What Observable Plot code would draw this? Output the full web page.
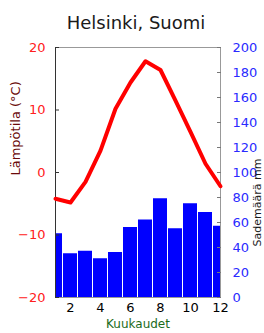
<!DOCTYPE html>
<html><head><meta charset="utf-8">
<script src="https://cdn.jsdelivr.net/npm/d3@7"></script>
<script src="https://cdn.jsdelivr.net/npm/@observablehq/plot@0.6"></script>
<style>body{margin:0;background:#fff}</style>
</head><body><div id="chart"></div>
<script>
const title = "Helsinki, Suomi";
const months = [1,2,3,4,5,6,7,8,9,10,11,12];
const temperature = [-4.2,-4.8,-1.5,3.5,10.2,14.4,17.8,16.4,11.5,6.5,1.4,-2.2];
const precipitation = [51,35,37,31,36,56,62,79,55,75,68,57];
const tempTicks = [-20,-10,0,10,20];
const precipTicks = [0,20,40,60,80,100,120,140,160,180,200];
const monthTicks = [2,4,6,8,10,12];
const xLabel = "Kuukaudet";
const yLabelLeft = "Lämpötila (°C)";
const yLabelRight = "Sademäärä mm";

const toTemp = p => p / 5 - 20;
const data = months.map((m, i) => ({month: m, temp: temperature[i], precip: precipitation[i]}));

const chart = Plot.plot({
  width: 264, height: 333,
  marginLeft: 55, marginRight: 44, marginTop: 47, marginBottom: 36,
  style: {fontFamily: "DejaVu Sans", fontSize: "13px", background: "white", color: "black"},
  x: {domain: [1, 12]},
  y: {domain: [-20, 20]},
  marks: [
    Plot.rect(data, {x1: d => d.month - 0.5, x2: d => d.month + 0.5, y1: d => -20, y2: d => toTemp(d.precip),
      fill: "#0000ff", insetLeft: 0.5, insetRight: 0.5, clip: true}),
    Plot.frame({stroke: "#999"}),
    Plot.ruleX([1], {stroke: "#333"}),
    Plot.axisY(tempTicks, {anchor: "left", tickSize: -4, stroke: "#333", fill: "none", label: null}),
    Plot.axisY(tempTicks, {anchor: "left", tickSize: 0, tickPadding: 10, fill: "#ff2020", label: null}),
    Plot.axisY(precipTicks.map(toTemp), {anchor: "right", tickSize: -4, stroke: "#777", fill: "none", label: null}),
    Plot.axisY(precipTicks.map(toTemp), {anchor: "right", tickSize: 0, tickPadding: 12, fill: "#2a2aff",
      tickFormat: t => String(Math.round((t + 20) * 5)), label: null}),
    Plot.axisX(monthTicks, {anchor: "bottom", tickSize: 0, tickPadding: 5, fill: "black", label: null}),
    Plot.lineY(data, {x: "month", y: "temp", stroke: "#ff0000", strokeWidth: 4}),
    Plot.text([title], {text: d => d, frameAnchor: "top", dy: -31, dx: -2, fontSize: 18, fill: "#1a1a1a"}),
    Plot.text([xLabel], {text: d => d, frameAnchor: "bottom", dy: 30, fontSize: 12, fill: "#1b6b1b"}),
    Plot.text([yLabelLeft], {text: d => d, frameAnchor: "left", dx: -40, dy: 3, rotate: -90, fontSize: 13, fill: "#6b0a0a"}),
    Plot.text([yLabelRight], {text: d => d, frameAnchor: "right", dx: 37, dy: -14, rotate: -90, fontSize: 11, fill: "#1a1a1a"})
  ]
});
document.getElementById("chart").appendChild(chart);
</script>
</body></html>
